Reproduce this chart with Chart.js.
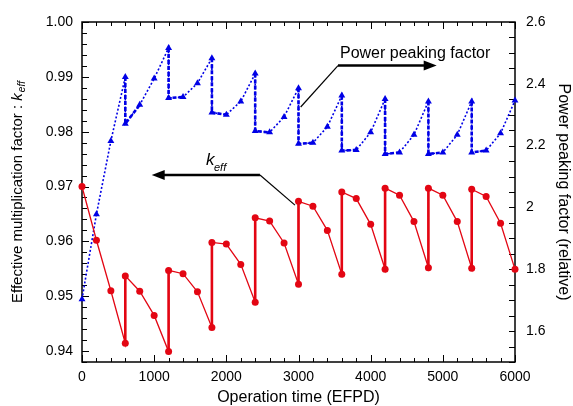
<!DOCTYPE html>
<html>
<head>
<meta charset="utf-8">
<script src="https://cdn.jsdelivr.net/npm/chart.js@4.4.1/dist/chart.umd.min.js"></script>
<style>
  html, body { margin: 0; padding: 0; background: #fff; }
  #wrap { width: 573px; height: 406px; position: relative; }
</style>
</head>
<body>
<div id="wrap"><canvas id="chart"></canvas></div>
<script>
// operation time (EFPD) - repeated days are the refuelling jumps
var days = [0, 200, 400, 600, 600, 800, 1000, 1200, 1200, 1400, 1600, 1800, 1800, 2000, 2200, 2400, 2400, 2600, 2800, 3000, 3000, 3200, 3400, 3600, 3600, 3800, 4000, 4200, 4200, 4400, 4600, 4800, 4800, 5000, 5200, 5400, 5400, 5600, 5800, 6000];
var keffValues = [0.970, 0.9602, 0.9510, 0.9414, 0.9537, 0.9509, 0.9465, 0.9399, 0.9547, 0.9541, 0.9508, 0.9443, 0.9598, 0.9595, 0.9558, 0.9489, 0.9643, 0.9637, 0.9597, 0.9522, 0.9673, 0.9664, 0.9620, 0.9540, 0.9690, 0.9678, 0.9631, 0.9549, 0.9697, 0.9684, 0.9636, 0.9552, 0.9697, 0.9684, 0.9636, 0.9551, 0.9695, 0.9682, 0.9633, 0.9549];
var peakingValues = [1.703, 1.978, 2.215, 2.422, 2.271, 2.332, 2.417, 2.516, 2.354, 2.357, 2.402, 2.483, 2.307, 2.300, 2.343, 2.433, 2.247, 2.243, 2.293, 2.386, 2.206, 2.209, 2.261, 2.362, 2.184, 2.186, 2.243, 2.351, 2.173, 2.178, 2.235, 2.343, 2.173, 2.178, 2.235, 2.343, 2.178, 2.184, 2.240, 2.346];

var dayTicks = [0, 1000, 2000, 3000, 4000, 5000, 6000];
var keffTicks = [0.94, 0.95, 0.96, 0.97, 0.98, 0.99, 1.00];
var peakingTicks = [1.6, 1.8, 2.0, 2.2, 2.4, 2.6];

// annotation anchors in data units [day, value]
var peakArrow = { from: [3030, 2.325], elbow: [3547, 2.459], tip: [4915, 2.459], text: [3575, 2.497] };
var keffArrow = { from: [2951, 0.9666], elbow: [2466, 0.9721], tip: [966, 0.9721], text: [1718, 0.9747] };

var RED = '#e30613';
var BLUE = '#0000e6';
var FONT = '"Liberation Sans", Arial, Helvetica, sans-serif';

function toPoints(vals) {
  return days.map(function (d, i) { return { x: d, y: vals[i] }; });
}

// points of the vertical refuelling jumps, split by nulls
function jumpPoints(vals, extra) {
  var out = [];
  for (var i = 0; i < days.length - 1; i++) {
    if (days[i] === days[i + 1]) {
      for (var k = 0; k <= 1 + extra && i + k < days.length; k++) {
        out.push({ x: days[i + k], y: vals[i + k] });
      }
      out.push({ x: days[i], y: null });
    }
  }
  return out;
}

function arrow(ctx, x0, y0, x1, y1) {
  var ang = Math.atan2(y1 - y0, x1 - x0);
  var len = 13, w = 5;
  ctx.beginPath();
  ctx.moveTo(x0, y0);
  ctx.lineTo(x1 - Math.cos(ang) * len * 0.8, y1 - Math.sin(ang) * len * 0.8);
  ctx.lineWidth = 2.5;
  ctx.stroke();
  ctx.beginPath();
  ctx.moveTo(x1, y1);
  ctx.lineTo(x1 - Math.cos(ang) * len - Math.sin(ang) * w, y1 - Math.sin(ang) * len + Math.cos(ang) * w);
  ctx.lineTo(x1 - Math.cos(ang) * len + Math.sin(ang) * w, y1 - Math.sin(ang) * len - Math.cos(ang) * w);
  ctx.closePath();
  ctx.fill();
}

var framePlugin = {
  id: 'frame',
  beforeDatasetsDraw: function (chart) {
    var ctx = chart.ctx, a = chart.chartArea;
    var sx = chart.scales.x, sl = chart.scales.y, sr = chart.scales.y1;
    ctx.save();
    ctx.strokeStyle = '#000';
    ctx.lineWidth = 1.5;
    ctx.strokeRect(a.left, a.top, a.right - a.left, a.bottom - a.top);
    ctx.lineWidth = 1;
    ctx.beginPath();
    // x ticks, bottom and top, pointing inward
    for (var d = 0; d <= 6000; d += 200) {
      var px = Math.round(sx.getPixelForValue(d)) + 0.5;
      var L = d % 1000 === 0 ? 7 : 4;
      ctx.moveTo(px, a.bottom); ctx.lineTo(px, a.bottom - L);
      ctx.moveTo(px, a.top); ctx.lineTo(px, a.top + L);
    }
    // left ticks
    for (var i = 0; i <= 31; i++) {
      var v = 0.938 + i * 0.002;
      var py = Math.round(sl.getPixelForValue(v)) + 0.5;
      var big = Math.abs(Math.round(v * 100) - v * 100) < 1e-6;
      ctx.moveTo(a.left, py); ctx.lineTo(a.left + (big ? 7 : 5), py);
    }
    // right ticks
    for (var j = 0; j <= 22; j++) {
      var w = 1.5 + j * 0.05;
      var qy = Math.round(sr.getPixelForValue(w)) + 0.5;
      ctx.moveTo(a.right, qy); ctx.lineTo(a.right - 6, qy);
    }
    ctx.stroke();
    ctx.restore();
  },
  afterDraw: function (chart) {
    var ctx = chart.ctx, a = chart.chartArea;
    var sx = chart.scales.x, sl = chart.scales.y, sr = chart.scales.y1;
    ctx.save();
    ctx.fillStyle = '#000';
    ctx.strokeStyle = '#000';
    ctx.textBaseline = 'middle';

    // bottom title
    ctx.font = '16px ' + FONT;
    ctx.textAlign = 'center';
    ctx.fillText('Operation time (EFPD)', (a.left + a.right) / 2, 398);

    // left title with italic k_eff
    var main = 'Effective multiplication factor : ';
    ctx.font = '15px ' + FONT;
    var w1 = ctx.measureText(main).width;
    ctx.font = 'italic 15px ' + FONT;
    var w2 = ctx.measureText('k').width;
    ctx.font = 'italic 10px ' + FONT;
    var w3 = ctx.measureText('eff').width;
    var tot = w1 + w2 + w3 + 1;
    ctx.translate(18, (a.top + a.bottom) / 2);
    ctx.rotate(-Math.PI / 2);
    ctx.textAlign = 'left';
    ctx.font = '15px ' + FONT;
    ctx.fillText(main, -tot / 2, 0);
    ctx.font = 'italic 15px ' + FONT;
    ctx.fillText('k', -tot / 2 + w1, 0);
    ctx.font = 'italic 10px ' + FONT;
    ctx.fillText('eff', -tot / 2 + w1 + w2 + 1, 4);
    ctx.setTransform(1, 0, 0, 1, 0, 0);

    // right title
    ctx.translate(563, (a.top + a.bottom) / 2);
    ctx.rotate(Math.PI / 2);
    ctx.textAlign = 'center';
    ctx.font = '16px ' + FONT;
    ctx.fillText('Power peaking factor (relative)', 0, 0);
    ctx.setTransform(1, 0, 0, 1, 0, 0);

    // power peaking annotation
    var px0 = sx.getPixelForValue(peakArrow.from[0]), py0 = sr.getPixelForValue(peakArrow.from[1]);
    var px1 = sx.getPixelForValue(peakArrow.elbow[0]), py1 = sr.getPixelForValue(peakArrow.elbow[1]);
    var px2 = sx.getPixelForValue(peakArrow.tip[0]);
    ctx.lineWidth = 1.2;
    ctx.beginPath(); ctx.moveTo(px0, py0); ctx.lineTo(px1, py1); ctx.stroke();
    arrow(ctx, px1, py1, px2, py1);
    ctx.textAlign = 'left';
    ctx.font = '16px ' + FONT;
    ctx.fillText('Power peaking factor', sx.getPixelForValue(peakArrow.text[0]), sr.getPixelForValue(peakArrow.text[1]));

    // keff annotation
    var kx0 = sx.getPixelForValue(keffArrow.from[0]), ky0 = sl.getPixelForValue(keffArrow.from[1]);
    var kx1 = sx.getPixelForValue(keffArrow.elbow[0]), ky1 = sl.getPixelForValue(keffArrow.elbow[1]);
    var kx2 = sx.getPixelForValue(keffArrow.tip[0]);
    ctx.lineWidth = 1.2;
    ctx.beginPath(); ctx.moveTo(kx0, ky0); ctx.lineTo(kx1, ky1); ctx.stroke();
    arrow(ctx, kx1, ky1, kx2, ky1);
    var tx = sx.getPixelForValue(keffArrow.text[0]), ty = sl.getPixelForValue(keffArrow.text[1]);
    ctx.font = 'italic 17px ' + FONT;
    ctx.fillText('k', tx, ty);
    ctx.font = 'italic 11px ' + FONT;
    ctx.fillText('eff', tx + 8, ty + 7);
    ctx.restore();
  }
};

var tickFont = { family: FONT, size: 14 };

new Chart(document.getElementById('chart'), {
  type: 'line',
  data: {
    datasets: [
      {
        label: 'keff',
        data: toPoints(keffValues),
        yAxisID: 'y',
        borderColor: RED,
        backgroundColor: RED,
        borderWidth: 1.3,
        pointStyle: 'circle',
        pointRadius: 3.5,
        pointBorderWidth: 0,
        tension: 0,
        clip: false
      },
      {
        label: 'keff jumps',
        data: jumpPoints(keffValues, 0),
        yAxisID: 'y',
        borderColor: RED,
        borderWidth: 2.6,
        pointRadius: 0,
        spanGaps: false,
        clip: false
      },
      {
        label: 'Power peaking factor',
        data: toPoints(peakingValues),
        yAxisID: 'y1',
        borderColor: BLUE,
        backgroundColor: BLUE,
        borderWidth: 1.6,
        borderDash: [2, 2],
        pointStyle: 'triangle',
        pointRadius: 4,
        pointBorderWidth: 0,
        tension: 0,
        clip: false
      },
      {
        label: 'peaking jumps',
        data: jumpPoints(peakingValues, 1),
        yAxisID: 'y1',
        borderColor: BLUE,
        borderWidth: 2.6,
        borderDash: [4, 2],
        pointRadius: 0,
        spanGaps: false,
        clip: false
      }
    ]
  },
  options: {
    responsive: true,
    maintainAspectRatio: false,
    animation: false,
    layout: { padding: { top: 22, left: 0, right: 0, bottom: 0 } },
    plugins: { legend: { display: false }, tooltip: { enabled: false } },
    scales: {
      x: {
        type: 'linear',
        min: 0,
        max: 6000,
        grid: { display: false },
        border: { display: false },
        afterBuildTicks: function (s) { s.ticks = dayTicks.map(function (v) { return { value: v }; }); },
        afterFit: function (s) { s.height = 44; },
        ticks: { color: '#000', font: tickFont, padding: -1, maxRotation: 0, callback: function (v) { return String(v); } }
      },
      y: {
        type: 'linear',
        position: 'left',
        min: 0.938,
        max: 1.0,
        grid: { display: false },
        border: { display: false },
        afterBuildTicks: function (s) { s.ticks = keffTicks.map(function (v) { return { value: v }; }); },
        afterFit: function (s) { s.width = 82; },
        ticks: { color: '#000', font: tickFont, padding: 1, callback: function (v) { return v.toFixed(2); } }
      },
      y1: {
        type: 'linear',
        position: 'right',
        min: 1.5,
        max: 2.6,
        grid: { display: false },
        border: { display: false },
        afterBuildTicks: function (s) { s.ticks = peakingTicks.map(function (v) { return { value: v }; }); },
        afterFit: function (s) { s.width = 58; },
        ticks: { color: '#000', font: tickFont, padding: 3, callback: function (v) { return String(Math.round(v * 10) / 10); } }
      }
    }
  },
  plugins: [framePlugin]
});
</script>
</body>
</html>
